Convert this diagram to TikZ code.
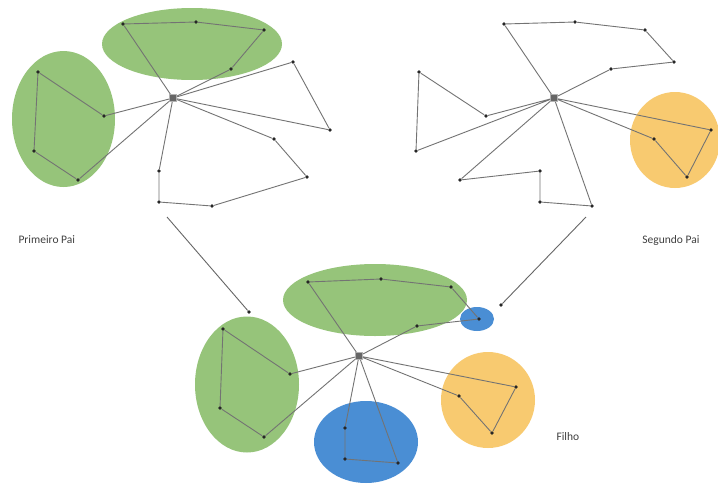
\documentclass[tikz,border=0pt]{standalone}
\usepackage{fontspec}
\setmainfont{Carlito}
\begin{document}
\begin{tikzpicture}[x=1pt,y=-1pt,
  route/.style={draw=black!55, line width=0.9pt},
  stop/.style={circle, fill=black!85, inner sep=0pt, minimum size=3.8pt},
  depot/.style={rectangle, fill=black!60, draw=black!30, line width=1pt, inner sep=0pt, minimum size=7pt},
  linkline/.style={draw=black!60, line width=0.9pt},
  lbl/.style={font=\fontsize{11.5}{13}\selectfont, text=black!75}]
\definecolor{gzone}{RGB}{150,196,122}
\definecolor{bzone}{RGB}{74,142,212}
\definecolor{ozone}{RGB}{248,202,112}
\useasboundingbox (0,0) rectangle (718,483);
\fill[white] (0,0) rectangle (718,483);

% ---------- first parent ----------
\fill[gzone] (192,44) ellipse [x radius=90, y radius=36];
\fill[gzone] (63.5,119) ellipse [x radius=51.5, y radius=68];
\node[depot] (d1) at (173,98) {};
\node[stop] (a1) at (123,24) {};
\node[stop] (a2) at (196,22) {};
\node[stop] (a3) at (264,30) {};
\node[stop] (a4) at (231,69) {};
\node[stop] (b1) at (104,116) {};
\node[stop] (b2) at (38,72) {};
\node[stop] (b3) at (34,151) {};
\node[stop] (b4) at (78,180) {};
\node[stop] (c1) at (293,62) {};
\node[stop] (c2) at (330,130) {};
\node[stop] (e1) at (274,139) {};
\node[stop] (e2) at (307,177) {};
\node[stop] (e3) at (212,206) {};
\node[stop] (e4) at (159,202) {};
\node[stop] (e5) at (159,171) {};
\draw[route] (d1) -- (a1) -- (a2) -- (a3) -- (a4) -- (d1);
\draw[route] (d1) -- (b1) -- (b2) -- (b3) -- (b4) -- (d1);
\draw[route] (d1) -- (c1) -- (c2) -- (d1);
\draw[route] (d1) -- (e1) -- (e2) -- (e3) -- (e4) -- (e5) -- (d1);

% ---------- second parent ----------
\fill[ozone] (675,140) ellipse [x radius=45, y radius=48];
\node[depot] (d2) at (554,98) {};
\node[stop] (f1) at (504,24) {};
\node[stop] (f2) at (575,22) {};
\node[stop] (f3) at (645,30) {};
\node[stop] (f4) at (674,62) {};
\node[stop] (f5) at (611,69) {};
\node[stop] (g1) at (486,116) {};
\node[stop] (g2) at (419,72) {};
\node[stop] (g3) at (416,151) {};
\node[stop] (h1) at (460,180) {};
\node[stop] (h2) at (540,171) {};
\node[stop] (h3) at (540,202) {};
\node[stop] (h4) at (592,206) {};
\node[stop] (k1) at (711,130) {};
\node[stop] (k2) at (687,177) {};
\node[stop] (k3) at (654,139) {};
\draw[route] (d2) -- (f1) -- (f2) -- (f3) -- (f4) -- (f5) -- (d2);
\draw[route] (d2) -- (g1) -- (g2) -- (g3) -- (d2);
\draw[route] (d2) -- (h1) -- (h2) -- (h3) -- (h4) -- (d2);
\draw[route] (d2) -- (k1) -- (k2) -- (k3) -- (d2);

% ---------- child ----------
\fill[gzone] (375,300) ellipse [x radius=92, y radius=36];
\fill[gzone] (247,384.5) ellipse [x radius=52, y radius=68];
\fill[bzone] (477,319) ellipse [x radius=17, y radius=12];
\fill[bzone] (366,442) ellipse [x radius=52, y radius=41];
\fill[ozone] (488,400) ellipse [x radius=47, y radius=48];
\node[depot] (d3) at (359,356) {};
\node[stop] (m1) at (308,282) {};
\node[stop] (m2) at (381,279) {};
\node[stop] (m3) at (451,287) {};
\node[stop] (m4) at (479,319) {};
\node[stop] (m5) at (417,326) {};
\node[stop] (n1) at (290,374) {};
\node[stop] (n2) at (223,329) {};
\node[stop] (n3) at (220,408) {};
\node[stop] (n4) at (264,437) {};
\node[stop] (p1) at (345,428) {};
\node[stop] (p2) at (345,459) {};
\node[stop] (p3) at (398,463) {};
\node[stop] (q1) at (516,387) {};
\node[stop] (q2) at (492,433) {};
\node[stop] (q3) at (459,396) {};
\draw[route] (d3) -- (m1) -- (m2) -- (m3) -- (m4) -- (m5) -- (d3);
\draw[route] (d3) -- (n1) -- (n2) -- (n3) -- (n4) -- (d3);
\draw[route] (d3) -- (p1) -- (p2) -- (p3) -- (d3);
\draw[route] (d3) -- (q1) -- (q2) -- (q3) -- (d3);

% ---------- links from parents to child ----------
\coordinate (s1) at (167,217);
\coordinate (s2) at (586,217);
\node[stop] (t1) at (249,312) {};
\node[stop] (t2) at (501,305) {};
\draw[linkline] (s1) -- (t1);
\draw[linkline] (s2) -- (t2);

% ---------- labels ----------
\node[lbl, anchor=west] (l1) at (15,240) {Primeiro Pai};
\node[lbl, anchor=east] (l2) at (703,240) {Segundo Pai};
\node[lbl, anchor=west] (l3) at (553,437) {Filho};
\end{tikzpicture}
\end{document}
